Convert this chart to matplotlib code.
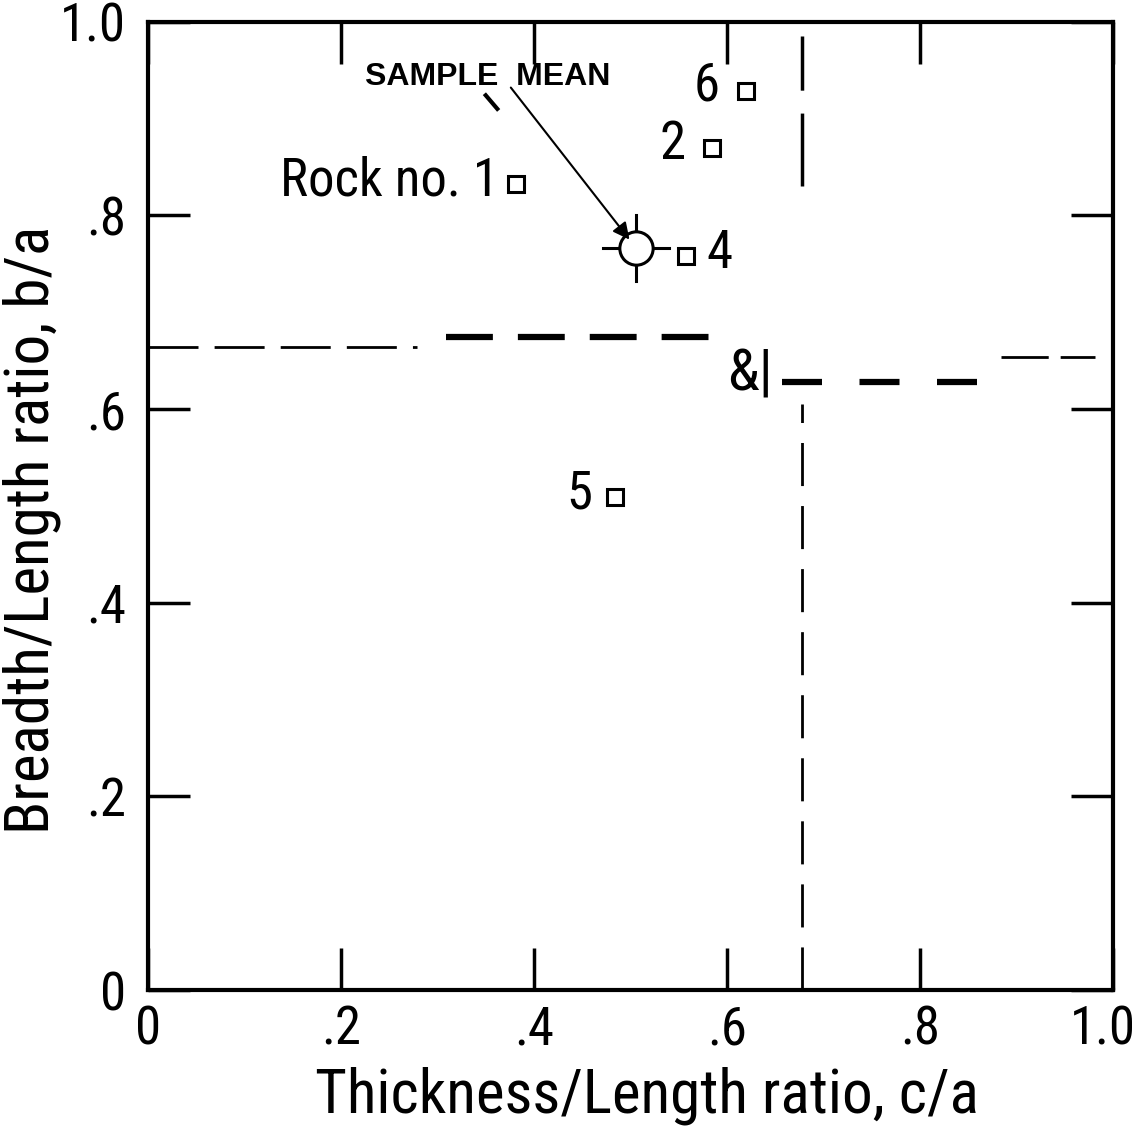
import matplotlib.pyplot as plt
from matplotlib.ticker import FixedLocator
from matplotlib.transforms import ScaledTranslation

# shape ratios of the individual rocks
rock_labels = ["Rock no. 1", "2", "4", "5", "6"]
thickness_ratio = [0.381, 0.585, 0.558, 0.484, 0.620]
breadth_ratio = [0.832, 0.870, 0.758, 0.509, 0.928]

# sample mean
mean_c = 0.506
mean_b = 0.766

# boundary lines
bound_c = 0.678
bound_b_left_thin = 0.664
bound_b_left_thick = 0.674
bound_b_right_thick = 0.628
bound_b_right_thin = 0.654

ticks = [0, 0.2, 0.4, 0.6, 0.8, 1.0]
tick_text = ["0", ".2", ".4", ".6", ".8", "1.0"]

plt.rcParams["font.family"] = ["Roboto Condensed", "Liberation Sans", "DejaVu Sans"]
fig = plt.figure(figsize=(11.39, 11.42), dpi=100)
ax = fig.add_axes([0.130, 0.133, 0.847, 0.848])
ax.set_xlim(0, 1.0)
ax.set_ylim(0, 1.0)

for s in ax.spines.values():
    s.set_linewidth(3)

ax.xaxis.set_major_locator(FixedLocator(ticks))
ax.yaxis.set_major_locator(FixedLocator(ticks))
ax.set_xticklabels(tick_text)
ax.set_yticklabels(tick_text)
ax.tick_params(direction="in", length=30, width=2.5, top=True, right=True,
               labelsize=38)
ax.tick_params(axis="x", pad=10)
ax.tick_params(axis="y", pad=16)
# keep the last x label inside the figure
last = ax.get_xticklabels()[-1]
last.set_transform(last.get_transform() + ScaledTranslation(-10 / 100, 0, fig.dpi_scale_trans))

ax.set_xlabel("Thickness/Length ratio, c/a", fontsize=44)
ax.set_ylabel("Breadth/Length ratio, b/a", fontsize=44)
ax.xaxis.set_label_coords(0.517, -0.079)
ax.yaxis.set_label_coords(-0.090, 0.475)

# rock points
ax.plot(thickness_ratio, breadth_ratio, "s", ms=12, mfc="white", mec="black", mew=2.2)
offsets = {"Rock no. 1": (-0.017, 0.003), "2": (-0.028, 0.003), "4": (0.021, 0.003),
           "5": (-0.024, 0.003), "6": (-0.028, 0.006)}
for lab, c, b in zip(rock_labels, thickness_ratio, breadth_ratio):
    dx, dy = offsets[lab]
    ha = "left" if dx > 0 else "right"
    ax.text(c + dx, b + dy, lab, fontsize=38, ha=ha, va="center")

# sample mean with crosshair
arm = 0.034
ax.plot([mean_c - arm, mean_c + arm], [mean_b, mean_b], color="black", lw=2.2)
ax.plot([mean_c, mean_c], [mean_b - arm, mean_b + arm], color="black", lw=2.2)
ax.plot(mean_c, mean_b, "o", ms=24, mfc="white", mec="black", mew=2.2)
ax.text(0.352, 0.943, "SAMPLE  MEAN", fontsize=23, fontweight="bold",
        family=["Liberation Sans", "DejaVu Sans"], ha="center", va="center")
ax.annotate("", xy=(0.499, 0.775), xytext=(0.376, 0.932),
            arrowprops=dict(arrowstyle="-|>", color="black", lw=1.5,
                            mutation_scale=25, shrinkA=0, shrinkB=0))
ax.plot([0.350, 0.362], [0.924, 0.910], color="black", lw=3)

# horizontal boundary, thin and heavy dashed pieces
ax.plot([0.0, 0.279], [bound_b_left_thin] * 2, color="black", lw=2,
        dashes=(18, 5.8))
ax.plot([0.309, 0.581], [bound_b_left_thick] * 2, color="black", lw=4.5,
        dashes=(7.5, 4))
ax.plot([0.657, 0.860], [bound_b_right_thick] * 2, color="black", lw=4.5,
        dashes=(6.4, 6))
ax.plot([0.884, 0.982], [bound_b_right_thin] * 2, color="black", lw=2,
        dashes=(17, 4.3))
ax.text(0.624, 0.635, "&|", fontsize=42, ha="center", va="center")

# vertical boundary
ax.plot([bound_c] * 2, [0.83, 0.985], color="black", lw=2.5, dashes=(21, 6.6))
ax.plot([bound_c] * 2, [0.0, 0.605], color="black", lw=2, dashes=(15.5, 7.2))

fig.savefig("out.png", dpi=100)
